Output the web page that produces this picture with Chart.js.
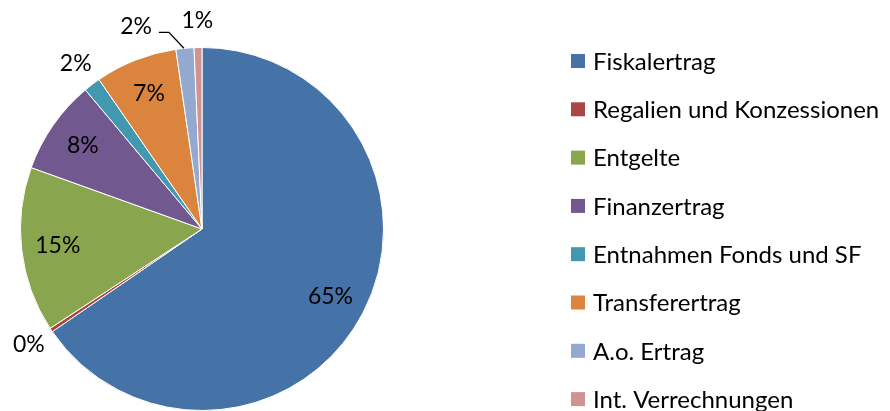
<!DOCTYPE html>
<html>
<head>
<meta charset="utf-8">
<script src="https://cdn.jsdelivr.net/npm/chart.js@4/dist/chart.umd.min.js"></script>
<style>
  body { margin: 0; background: #fff; }
</style>
</head>
<body>
<canvas id="myChart" width="890" height="411"></canvas>
<script>
// data block
const categories = [
  "Fiskalertrag",
  "Regalien und Konzessionen",
  "Entgelte",
  "Finanzertrag",
  "Entnahmen Fonds und SF",
  "Transferertrag",
  "A.o. Ertrag",
  "Int. Verrechnungen",
];
const shares = [65.4, 0.35, 14.7, 8.4, 1.5, 7.3, 1.6, 0.7];
const colors = [
  "#4572A7", "#AA4643", "#89A54E", "#71588F",
  "#4198AF", "#DB843D", "#93A9CF", "#D19392",
];

const LABEL_FONT = "23px Lato";
const LEGEND_FONT = "24px Lato";

// percent labels on / next to the slices + legend on the right
const pieLabels = {
  id: "pieLabels",
  afterDraw: (chart) => {
    const { ctx } = chart;
    const meta = chart.getDatasetMeta(0);
    const total = shares.reduce((a, b) => a + b, 0);
    ctx.save();
    ctx.font = LABEL_FONT;
    ctx.fillStyle = "#000";
    ctx.textAlign = "center";
    ctx.textBaseline = "middle";
    let prevBox = null;
    const placed = [];
    meta.data.forEach((arc, i) => {
      const { x, y, startAngle, endAngle, outerRadius } = arc.getProps(
        ["x", "y", "startAngle", "endAngle", "outerRadius"], true);
      const mid = (startAngle + endAngle) / 2;
      const pct = Math.round((shares[i] / total) * 100) + "%";
      const inside = shares[i] / total >= 0.05;
      const d = inside ? outerRadius * 0.8 : outerRadius + 27;
      placed.push({
        i, pct, inside, mid,
        lx: x + Math.cos(mid) * d,
        ly: y + Math.sin(mid) * d,
        rx: x + Math.cos(mid) * outerRadius,
        ry: y + Math.sin(mid) * outerRadius,
      });
    });
    // walk backwards from the top so small outer labels can dodge each other
    for (let k = placed.length - 1; k >= 0; k--) {
      const p = placed[k];
      const w = ctx.measureText(p.pct).width;
      let box = { l: p.lx - w / 2, r: p.lx + w / 2, t: p.ly - 10, b: p.ly + 10 };
      if (!p.inside && prevBox && box.r > prevBox.l && box.l < prevBox.r &&
          box.b > prevBox.t && box.t < prevBox.b) {
        // collision: move label up-left and draw a leader line
        const ex = p.rx - 16, ey = p.ry - 16;
        ctx.strokeStyle = "#000";
        ctx.lineWidth = 1.3;
        ctx.beginPath();
        ctx.moveTo(p.rx - 1, p.ry);
        ctx.lineTo(ex, ey);
        ctx.lineTo(ex - 10, ey);
        ctx.stroke();
        p.lx = ex - 17 - w / 2;
        p.ly = ey - 6;
        box = { l: p.lx - w / 2, r: p.lx + w / 2, t: p.ly - 10, b: p.ly + 10 };
      }
      ctx.fillText(p.pct, p.lx, p.ly);
      if (!p.inside) prevBox = box;
    }

    // legend
    const lx = 571, ly0 = 61, step = 48.3;
    ctx.font = LEGEND_FONT;
    ctx.textAlign = "left";
    categories.forEach((name, i) => {
      const cy = ly0 + i * step;
      ctx.fillStyle = colors[i];
      ctx.fillRect(lx, cy - 7, 14, 14);
      ctx.fillStyle = "#000";
      ctx.fillText(name, lx + 22, cy + 1);
    });
    ctx.restore();
  },
};

// config block
const config = {
  type: "pie",
  data: {
    labels: categories,
    datasets: [
      {
        data: shares,
        backgroundColor: colors,
        borderColor: "#ffffff",
        borderWidth: 1,
      },
    ],
  },
  options: {
    responsive: false,
    animation: false,
    layout: {
      padding: { left: 0, right: 486, top: 47, bottom: 0 },
    },
    plugins: {
      legend: { display: false },
      tooltip: { enabled: false },
    },
  },
  plugins: [pieLabels],
};

// render init block
const myChart = new Chart(document.getElementById("myChart"), config);
</script>
</body>
</html>
